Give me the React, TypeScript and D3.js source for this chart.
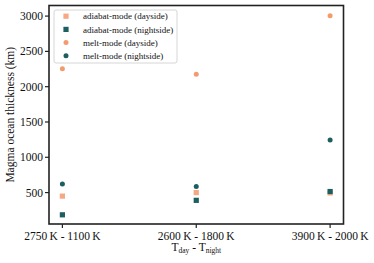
import React from "react";
import * as d3 from "d3";

const categories = ["2750\u2009K - 1100\u2009K", "2600\u2009K - 1800\u2009K", "3900\u2009K - 2000\u2009K"];
const adiabatDay = [450, 500, 495];
const adiabatNight = [185, 390, 515];
const meltDay = [2255, 2175, 3005];
const meltNight = [620, 585, 1245];
const yTicks = [500, 1000, 1500, 2000, 2500, 3000];

const series = [
  { name: "adiabat-mode (dayside)", values: adiabatDay, shape: "square", color: "#f6a882" },
  { name: "adiabat-mode (nightside)", values: adiabatNight, shape: "square", color: "#1d5e60" },
  { name: "melt-mode (dayside)", values: meltDay, shape: "circle", color: "#f39b6d" },
  { name: "melt-mode (nightside)", values: meltNight, shape: "circle", color: "#1d5e60" },
];

const W = 374, H = 263;
const L = 49, R = 343.5, T = 5.5, B = 224;
const font = "'Liberation Serif', 'DejaVu Serif', serif";

export default function App() {
  const x = d3.scaleLinear().domain([-0.1, 2.1]).range([L, R]);
  const y = d3.scaleLinear().domain([55, 3150]).range([B, T]);
  const marker = (shape: string, cx: number, cy: number, color: string, key: string) =>
    shape === "square" ? (
      <rect key={key} x={cx - 2.6} y={cy - 2.6} width={5.2} height={5.2} fill={color} />
    ) : (
      <circle key={key} cx={cx} cy={cy} r={2.5} fill={color} />
    );
  return (
    <svg width={W} height={H} style={{ position: "absolute", left: 0, top: 0 }} fontFamily={font}>
      <rect x={0} y={0} width={W} height={H} fill="white" />
      {series.map((s, si) =>
        s.values.map((v, i) => marker(s.shape, x(i), y(v), s.color, `${si}-${i}`))
      )}
      <rect x={L} y={T} width={R - L} height={B - T} fill="none" stroke="#222" strokeWidth={1.6} />
      {yTicks.map((t) => (
        <g key={t}>
          <line x1={L - 4} x2={L} y1={y(t)} y2={y(t)} stroke="#222" strokeWidth={1.2} />
          <text x={L - 6} y={y(t)} dy="0.35em" textAnchor="end" fontSize={11.5} fill="#111">
            {t}
          </text>
        </g>
      ))}
      {categories.map((c, i) => (
        <g key={c}>
          <line x1={x(i)} x2={x(i)} y1={B} y2={B + 4} stroke="#222" strokeWidth={1.2} />
          <text x={x(i)} y={B + 16} textAnchor="middle" fontSize={11.5} fill="#111">
            {c}
          </text>
        </g>
      ))}
      <text x={(L + R) / 2} y={251} textAnchor="middle" fontSize={11.5} fill="#111">
        T<tspan fontSize={7.5} dy={2}>day</tspan>
        <tspan dy={-2}> - T</tspan>
        <tspan fontSize={7.5} dy={2}>night</tspan>
      </text>
      <text
        transform={`translate(14, ${(T + B) / 2}) rotate(-90)`}
        textAnchor="middle"
        fontSize={11.5}
        fill="#111"
      >
        Magma ocean thickness (km)
      </text>
      <g>
        <rect x={54} y={10} width={123} height={53} rx={2} fill="white" fillOpacity={0.85} stroke="#ccc" strokeWidth={0.8} />
        {series.map((s, i) => {
          const cy = 16.2 + i * 13.2;
          return (
            <g key={s.name}>
              {marker(s.shape, 66, cy, s.color, "l" + i)}
              <text x={83} y={cy} dy="0.35em" fontSize={9} fill="#111">
                {s.name}
              </text>
            </g>
          );
        })}
      </g>
    </svg>
  );
}
